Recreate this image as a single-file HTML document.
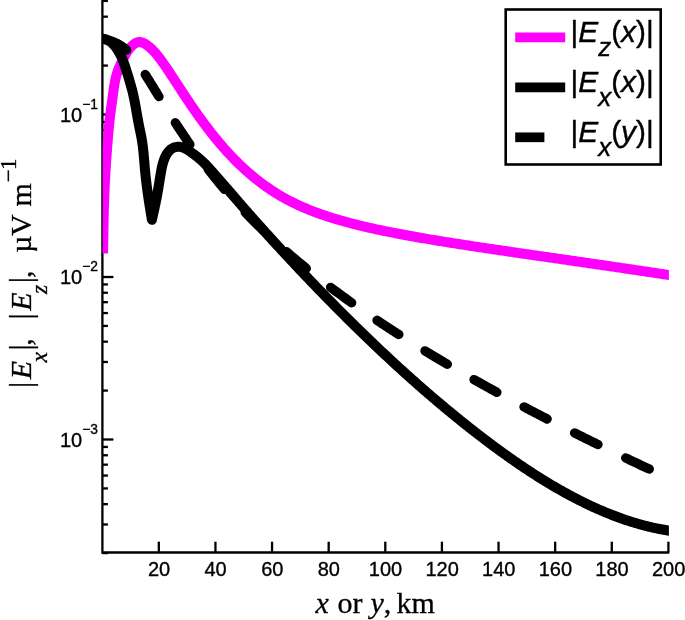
<!DOCTYPE html>
<html><head><meta charset="utf-8"><title>Field plot</title>
<style>
html,body{margin:0;padding:0;background:#fff;}
svg{display:block;}
.sans{font-family:"Liberation Sans",Arial,Helvetica,sans-serif;}
.serif{font-family:"Liberation Serif","Times New Roman",Times,serif;}
</style></head><body>
<svg width="685" height="620" viewBox="0 0 685 620">
<rect width="685" height="620" fill="#fff"/>
<defs><clipPath id="c"><rect x="102.6" y="0" width="566.3" height="552.5"/></clipPath></defs>
<g stroke="#000" stroke-width="2.3" fill="none">
<path d="M102.4,-0.4 V552.5 H669.2" stroke-linejoin="miter"/>
<line x1="158.82" y1="552.5" x2="158.82" y2="541.7"/>
<line x1="215.44" y1="552.5" x2="215.44" y2="541.7"/>
<line x1="272.06" y1="552.5" x2="272.06" y2="541.7"/>
<line x1="328.68" y1="552.5" x2="328.68" y2="541.7"/>
<line x1="385.30" y1="552.5" x2="385.30" y2="541.7"/>
<line x1="441.92" y1="552.5" x2="441.92" y2="541.7"/>
<line x1="498.54" y1="552.5" x2="498.54" y2="541.7"/>
<line x1="555.16" y1="552.5" x2="555.16" y2="541.7"/>
<line x1="611.78" y1="552.5" x2="611.78" y2="541.7"/>
<line x1="668.40" y1="552.5" x2="668.40" y2="541.7"/>
<line x1="102.4" y1="553.08" x2="107.9" y2="553.08"/>
<line x1="102.4" y1="524.47" x2="107.9" y2="524.47"/>
<line x1="102.4" y1="504.17" x2="107.9" y2="504.17"/>
<line x1="102.4" y1="488.42" x2="107.9" y2="488.42"/>
<line x1="102.4" y1="475.55" x2="107.9" y2="475.55"/>
<line x1="102.4" y1="464.67" x2="107.9" y2="464.67"/>
<line x1="102.4" y1="455.25" x2="107.9" y2="455.25"/>
<line x1="102.4" y1="446.94" x2="107.9" y2="446.94"/>
<line x1="102.4" y1="439.50" x2="113.4" y2="439.50"/>
<line x1="102.4" y1="390.58" x2="107.9" y2="390.58"/>
<line x1="102.4" y1="361.97" x2="107.9" y2="361.97"/>
<line x1="102.4" y1="341.67" x2="107.9" y2="341.67"/>
<line x1="102.4" y1="325.92" x2="107.9" y2="325.92"/>
<line x1="102.4" y1="313.05" x2="107.9" y2="313.05"/>
<line x1="102.4" y1="302.17" x2="107.9" y2="302.17"/>
<line x1="102.4" y1="292.75" x2="107.9" y2="292.75"/>
<line x1="102.4" y1="284.44" x2="107.9" y2="284.44"/>
<line x1="102.4" y1="277.00" x2="113.4" y2="277.00"/>
<line x1="102.4" y1="228.08" x2="107.9" y2="228.08"/>
<line x1="102.4" y1="199.47" x2="107.9" y2="199.47"/>
<line x1="102.4" y1="179.17" x2="107.9" y2="179.17"/>
<line x1="102.4" y1="163.42" x2="107.9" y2="163.42"/>
<line x1="102.4" y1="150.55" x2="107.9" y2="150.55"/>
<line x1="102.4" y1="139.67" x2="107.9" y2="139.67"/>
<line x1="102.4" y1="130.25" x2="107.9" y2="130.25"/>
<line x1="102.4" y1="121.94" x2="107.9" y2="121.94"/>
<line x1="102.4" y1="114.50" x2="113.4" y2="114.50"/>
<line x1="102.4" y1="65.58" x2="107.9" y2="65.58"/>
<line x1="102.4" y1="36.97" x2="107.9" y2="36.97"/>
<line x1="102.4" y1="16.67" x2="107.9" y2="16.67"/>
<line x1="102.4" y1="0.92" x2="107.9" y2="0.92"/>
</g>
<g clip-path="url(#c)" fill="none" stroke-width="10" stroke-linejoin="round">
<path d="M103.10,253.50 L103.12,252.11 L103.14,250.72 L103.15,249.33 L103.17,247.93 L103.19,246.54 L103.21,245.15 L103.23,243.76 L103.25,242.37 L103.27,240.98 L103.29,239.59 L103.31,238.19 L103.33,236.80 L103.35,235.41 L103.37,234.02 L103.39,232.63 L103.42,231.24 L103.44,229.85 L103.47,228.46 L103.49,227.06 L103.52,225.67 L103.54,224.28 L103.57,222.89 L103.60,221.50 L103.63,220.11 L103.66,218.72 L103.69,217.33 L103.72,215.94 L103.75,214.55 L103.79,213.15 L103.82,211.76 L103.86,210.37 L103.90,208.98 L103.94,207.59 L103.98,206.20 L104.02,204.81 L104.06,203.42 L104.11,202.03 L104.15,200.64 L104.20,199.25 L104.25,197.86 L104.30,196.47 L104.35,195.08 L104.41,193.69 L104.46,192.30 L104.52,190.91 L104.58,189.52 L104.64,188.13 L104.70,186.74 L104.77,185.35 L104.83,183.97 L104.90,182.58 L104.97,181.19 L105.04,179.80 L105.12,178.41 L105.19,177.02 L105.27,175.63 L105.35,174.24 L105.43,172.86 L105.51,171.47 L105.60,170.08 L105.68,168.69 L105.77,167.30 L105.86,165.91 L105.95,164.53 L106.04,163.14 L106.13,161.75 L106.23,160.36 L106.33,158.97 L106.42,157.59 L106.52,156.20 L106.62,154.81 L106.72,153.42 L106.83,152.04 L106.93,150.65 L107.04,149.26 L107.14,147.87 L107.25,146.48 L107.36,145.10 L107.47,143.71 L107.58,142.32 L107.69,140.93 L107.81,139.55 L107.92,138.16 L108.04,136.77 L108.15,135.39 L108.27,134.00 L108.39,132.61 L108.51,131.22 L108.64,129.84 L108.77,128.45 L108.90,127.07 L109.03,125.68 L109.17,124.30 L109.31,122.91 L109.45,121.53 L109.60,120.15 L109.76,118.77 L109.91,117.38 L110.08,116.00 L110.25,114.62 L110.42,113.25 L110.60,111.87 L110.78,110.49 L110.97,109.12 L111.16,107.74 L111.36,106.36 L111.55,104.99 L111.74,103.61 L111.94,102.23 L112.13,100.85 L112.32,99.47 L112.51,98.09 L112.69,96.70 L112.87,95.32 L113.06,93.93 L113.24,92.54 L113.42,91.16 L113.61,89.77 L113.81,88.38 L114.01,87.00 L114.23,85.62 L114.46,84.25 L114.70,82.87 L114.97,81.50 L115.24,80.14 L115.54,78.78 L115.87,77.43 L116.21,76.09 L116.59,74.75 L116.99,73.43 L117.42,72.11 L117.89,70.80 L118.38,69.50 L118.91,68.21 L119.46,66.93 L120.02,65.65 L120.61,64.39 L121.21,63.13 L121.82,61.88 L122.44,60.63 L123.06,59.39 L123.68,58.15 L124.30,56.92 L124.93,55.70 L125.58,54.48 L126.26,53.28 L126.97,52.10 L127.72,50.93 L128.52,49.79 L129.38,48.66 L130.30,47.56 L131.30,46.49 L132.38,45.45 L133.52,44.49 L134.71,43.64 L135.95,42.93 L137.22,42.40 L138.52,42.08 L139.83,42.00 L141.14,42.17 L142.45,42.56 L143.74,43.12 L145.01,43.83 L146.26,44.63 L147.46,45.51 L148.62,46.41 L149.73,47.33 L150.80,48.26 L151.82,49.20 L152.81,50.16 L153.77,51.14 L154.70,52.14 L155.61,53.17 L156.50,54.22 L157.37,55.30 L158.23,56.40 L159.08,57.51 L159.92,58.62 L160.75,59.74 L161.57,60.86 L162.38,61.99 L163.18,63.12 L163.98,64.26 L164.78,65.41 L165.56,66.55 L166.35,67.70 L167.13,68.85 L167.90,70.01 L168.68,71.16 L169.45,72.32 L170.22,73.48 L170.98,74.64 L171.75,75.81 L172.51,76.97 L173.27,78.13 L174.03,79.30 L174.79,80.46 L175.55,81.63 L176.31,82.79 L177.07,83.96 L177.83,85.13 L178.59,86.29 L179.35,87.46 L180.11,88.62 L180.87,89.79 L181.63,90.95 L182.40,92.11 L183.16,93.28 L183.92,94.44 L184.69,95.60 L185.46,96.76 L186.23,97.92 L187.00,99.08 L187.77,100.23 L188.55,101.39 L189.32,102.54 L190.10,103.70 L190.88,104.85 L191.66,106.00 L192.45,107.15 L193.24,108.29 L194.03,109.44 L194.82,110.58 L195.62,111.72 L196.41,112.86 L197.21,114.00 L198.02,115.13 L198.82,116.27 L199.63,117.40 L200.45,118.53 L201.26,119.66 L202.08,120.78 L202.90,121.90 L203.73,123.02 L204.56,124.14 L205.39,125.25 L206.23,126.37 L207.07,127.47 L207.91,128.58 L208.76,129.68 L209.61,130.79 L210.46,131.88 L211.32,132.98 L212.18,134.07 L213.05,135.16 L213.92,136.24 L214.79,137.33 L215.67,138.40 L216.56,139.48 L217.44,140.55 L218.33,141.62 L219.23,142.68 L220.13,143.74 L221.03,144.80 L221.94,145.85 L222.86,146.90 L223.78,147.95 L224.70,148.99 L225.63,150.03 L226.56,151.06 L227.50,152.09 L228.44,153.11 L229.38,154.13 L230.33,155.15 L231.29,156.16 L232.25,157.16 L233.22,158.16 L234.19,159.16 L235.17,160.15 L236.15,161.14 L237.13,162.12 L238.13,163.09 L239.12,164.06 L240.13,165.03 L241.13,165.99 L242.15,166.94 L243.16,167.89 L244.19,168.83 L245.22,169.77 L246.25,170.70 L247.29,171.63 L248.33,172.54 L249.38,173.46 L250.44,174.36 L251.50,175.26 L252.57,176.16 L253.64,177.04 L254.71,177.93 L255.80,178.80 L256.89,179.67 L257.98,180.53 L259.08,181.38 L260.18,182.23 L261.29,183.06 L262.41,183.90 L263.53,184.72 L264.65,185.54 L265.79,186.35 L266.92,187.15 L268.07,187.94 L269.21,188.73 L270.37,189.51 L271.52,190.28 L272.69,191.04 L273.86,191.80 L275.03,192.54 L276.21,193.28 L277.40,194.01 L278.59,194.73 L279.78,195.44 L280.98,196.15 L282.19,196.84 L283.40,197.53 L284.61,198.21 L285.83,198.88 L287.05,199.54 L288.28,200.19 L289.52,200.83 L290.76,201.47 L292.00,202.09 L293.24,202.71 L294.49,203.32 L295.75,203.93 L297.01,204.52 L298.27,205.10 L299.53,205.68 L300.80,206.25 L302.08,206.82 L303.35,207.37 L304.63,207.92 L305.91,208.46 L307.20,208.99 L308.49,209.52 L309.78,210.04 L311.07,210.55 L312.37,211.05 L313.67,211.55 L314.97,212.05 L316.27,212.53 L317.58,213.01 L318.88,213.48 L320.19,213.95 L321.51,214.41 L322.82,214.87 L324.14,215.32 L325.46,215.76 L326.78,216.20 L328.10,216.63 L329.42,217.06 L330.75,217.48 L332.08,217.90 L333.41,218.31 L334.74,218.71 L336.07,219.12 L337.40,219.51 L338.74,219.90 L340.07,220.29 L341.41,220.68 L342.75,221.05 L344.09,221.43 L345.43,221.80 L346.77,222.16 L348.12,222.53 L349.46,222.88 L350.81,223.24 L352.15,223.59 L353.50,223.93 L354.85,224.28 L356.20,224.62 L357.55,224.95 L358.90,225.28 L360.25,225.61 L361.60,225.94 L362.96,226.26 L364.31,226.58 L365.66,226.90 L367.02,227.21 L368.38,227.52 L369.73,227.83 L371.09,228.13 L372.45,228.44 L373.81,228.74 L375.17,229.03 L376.52,229.33 L377.89,229.62 L379.25,229.91 L380.61,230.20 L381.97,230.48 L383.33,230.76 L384.69,231.04 L386.06,231.32 L387.42,231.60 L388.78,231.87 L390.15,232.15 L391.51,232.42 L392.88,232.68 L394.24,232.95 L395.61,233.22 L396.97,233.48 L398.34,233.74 L399.71,234.00 L401.07,234.26 L402.44,234.52 L403.81,234.77 L405.18,235.02 L406.55,235.28 L407.91,235.53 L409.28,235.78 L410.65,236.02 L412.02,236.27 L413.39,236.51 L414.76,236.76 L416.13,237.00 L417.50,237.24 L418.87,237.48 L420.24,237.72 L421.61,237.96 L422.98,238.20 L424.35,238.43 L425.72,238.67 L427.10,238.90 L428.47,239.13 L429.84,239.36 L431.21,239.59 L432.58,239.82 L433.96,240.05 L435.33,240.28 L436.70,240.51 L438.07,240.73 L439.45,240.96 L440.82,241.18 L442.19,241.40 L443.57,241.63 L444.94,241.85 L446.31,242.07 L447.69,242.29 L449.06,242.51 L450.43,242.73 L451.81,242.95 L453.18,243.16 L454.56,243.38 L455.93,243.60 L457.30,243.81 L458.68,244.03 L460.05,244.24 L461.43,244.46 L462.80,244.67 L464.18,244.88 L465.55,245.09 L466.93,245.31 L468.30,245.52 L469.68,245.73 L471.05,245.94 L472.43,246.15 L473.80,246.36 L475.18,246.57 L476.55,246.77 L477.93,246.98 L479.30,247.19 L480.68,247.40 L482.06,247.60 L483.43,247.81 L484.81,248.02 L486.18,248.22 L487.56,248.43 L488.94,248.63 L490.31,248.84 L491.69,249.04 L493.06,249.25 L494.44,249.45 L495.82,249.65 L497.19,249.86 L498.57,250.06 L499.94,250.26 L501.32,250.47 L502.70,250.67 L504.07,250.87 L505.45,251.07 L506.83,251.27 L508.20,251.48 L509.58,251.68 L510.96,251.88 L512.33,252.08 L513.71,252.28 L515.09,252.48 L516.46,252.68 L517.84,252.88 L519.22,253.08 L520.59,253.28 L521.97,253.48 L523.35,253.68 L524.72,253.88 L526.10,254.08 L527.48,254.28 L528.85,254.48 L530.23,254.68 L531.61,254.88 L532.98,255.08 L534.36,255.28 L535.74,255.48 L537.11,255.68 L538.49,255.88 L539.87,256.08 L541.24,256.27 L542.62,256.47 L544.00,256.67 L545.37,256.87 L546.75,257.07 L548.13,257.27 L549.50,257.47 L550.88,257.67 L552.26,257.87 L553.64,258.06 L555.01,258.26 L556.39,258.46 L557.77,258.66 L559.14,258.86 L560.52,259.06 L561.90,259.26 L563.27,259.46 L564.65,259.66 L566.03,259.85 L567.40,260.05 L568.78,260.25 L570.16,260.45 L571.53,260.65 L572.91,260.85 L574.29,261.05 L575.66,261.25 L577.04,261.45 L578.42,261.65 L579.80,261.85 L581.17,262.05 L582.55,262.25 L583.93,262.45 L585.30,262.65 L586.68,262.85 L588.06,263.05 L589.43,263.25 L590.81,263.45 L592.19,263.65 L593.56,263.85 L594.94,264.05 L596.32,264.25 L597.69,264.45 L599.07,264.65 L600.45,264.85 L601.82,265.05 L603.20,265.25 L604.57,265.45 L605.95,265.65 L607.33,265.86 L608.70,266.06 L610.08,266.26 L611.46,266.46 L612.83,266.66 L614.21,266.86 L615.59,267.07 L616.96,267.27 L618.34,267.47 L619.72,267.67 L621.09,267.88 L622.47,268.08 L623.84,268.28 L625.22,268.48 L626.60,268.69 L627.97,268.89 L629.35,269.09 L630.73,269.30 L632.10,269.50 L633.48,269.71 L634.85,269.91 L636.23,270.11 L637.61,270.32 L638.98,270.52 L640.36,270.73 L641.73,270.93 L643.11,271.14 L644.49,271.34 L645.86,271.55 L647.24,271.76 L648.61,271.96 L649.99,272.17 L651.37,272.37 L652.74,272.58 L654.12,272.79 L655.49,272.99 L656.87,273.20 L658.24,273.41 L659.62,273.61 L661.00,273.82 L662.37,274.03 L663.75,274.24 L665.12,274.44 L666.50,274.65 L667.87,274.86 L669.25,275.06 L670.62,275.27 L672.00,275.48" stroke="#ff00ff"/>
<path d="M102.00,38.40 L103.28,38.76 L104.55,39.13 L105.80,39.53 L107.02,39.98 L108.21,40.50 L109.35,41.09 L110.44,41.78 L111.46,42.56 L112.44,43.42 L113.37,44.35 L114.25,45.33 L115.09,46.36 L115.89,47.42 L116.66,48.49 L117.40,49.59 L118.10,50.69 L118.77,51.81 L119.42,52.95 L120.03,54.09 L120.62,55.25 L121.18,56.42 L121.72,57.60 L122.24,58.79 L122.73,60.00 L123.21,61.21 L123.66,62.42 L124.11,63.65 L124.53,64.88 L124.95,66.12 L125.36,67.36 L125.76,68.60 L126.15,69.84 L126.54,71.09 L126.93,72.34 L127.32,73.58 L127.71,74.83 L128.09,76.07 L128.48,77.32 L128.86,78.57 L129.24,79.81 L129.61,81.06 L129.98,82.31 L130.34,83.56 L130.70,84.82 L131.05,86.07 L131.40,87.32 L131.73,88.58 L132.06,89.84 L132.38,91.10 L132.69,92.36 L132.99,93.63 L133.28,94.90 L133.56,96.17 L133.83,97.44 L134.10,98.71 L134.35,99.99 L134.61,101.27 L134.85,102.54 L135.09,103.82 L135.33,105.10 L135.56,106.39 L135.79,107.67 L136.02,108.95 L136.25,110.24 L136.47,111.52 L136.70,112.80 L136.92,114.09 L137.14,115.37 L137.37,116.66 L137.59,117.94 L137.82,119.23 L138.06,120.51 L138.29,121.79 L138.53,123.07 L138.78,124.35 L139.03,125.63 L139.28,126.91 L139.55,128.19 L139.81,129.46 L140.08,130.74 L140.35,132.02 L140.61,133.29 L140.87,134.57 L141.12,135.84 L141.37,137.12 L141.60,138.40 L141.82,139.69 L142.03,140.97 L142.23,142.26 L142.42,143.54 L142.59,144.83 L142.76,146.12 L142.92,147.41 L143.07,148.71 L143.21,150.00 L143.35,151.30 L143.48,152.59 L143.60,153.89 L143.72,155.19 L143.84,156.49 L143.96,157.79 L144.07,159.09 L144.18,160.39 L144.29,161.69 L144.39,162.99 L144.50,164.29 L144.61,165.59 L144.72,166.89 L144.84,168.19 L144.95,169.48 L145.07,170.78 L145.20,172.08 L145.33,173.38 L145.46,174.67 L145.59,175.97 L145.73,177.27 L145.88,178.56 L146.03,179.85 L146.18,181.15 L146.33,182.44 L146.49,183.73 L146.65,185.03 L146.81,186.32 L146.98,187.61 L147.15,188.90 L147.33,190.19 L147.50,191.48 L147.68,192.77 L147.87,194.06 L148.05,195.35 L148.24,196.64 L148.43,197.93 L148.62,199.22 L148.82,200.50 L149.01,201.79 L149.21,203.08 L149.41,204.37 L149.61,205.65 L149.82,206.94 L150.02,208.23 L150.23,209.51 L150.43,210.80 L150.64,212.08 L150.85,213.37 L151.06,214.66 L151.27,215.94 L151.48,217.23 L151.69,218.51 L151.90,219.80 L152.22,218.40 L152.53,216.99 L152.85,215.59 L153.17,214.19 L153.48,212.78 L153.79,211.38 L154.10,209.97 L154.41,208.57 L154.71,207.17 L155.01,205.76 L155.31,204.35 L155.60,202.95 L155.89,201.54 L156.17,200.14 L156.45,198.73 L156.72,197.32 L156.99,195.91 L157.25,194.50 L157.50,193.09 L157.74,191.68 L157.98,190.27 L158.22,188.85 L158.45,187.44 L158.68,186.03 L158.91,184.61 L159.14,183.20 L159.37,181.78 L159.59,180.36 L159.82,178.94 L160.06,177.52 L160.29,176.10 L160.53,174.68 L160.78,173.25 L161.03,171.83 L161.29,170.41 L161.56,168.98 L161.85,167.56 L162.16,166.15 L162.50,164.74 L162.87,163.35 L163.28,161.97 L163.73,160.60 L164.22,159.25 L164.77,157.92 L165.37,156.61 L166.03,155.32 L166.76,154.06 L167.56,152.84 L168.44,151.68 L169.40,150.59 L170.46,149.61 L171.61,148.74 L172.87,148.03 L174.22,147.46 L175.63,147.06 L177.08,146.81 L178.54,146.73 L179.98,146.82 L181.38,147.07 L182.75,147.47 L184.09,147.99 L185.39,148.62 L186.67,149.33 L187.92,150.11 L189.16,150.92 L190.37,151.76 L191.57,152.60 L192.75,153.45 L193.92,154.31 L195.07,155.18 L196.21,156.06 L197.33,156.95 L198.44,157.85 L199.53,158.77 L200.60,159.70 L201.66,160.65 L202.71,161.62 L203.74,162.60 L204.76,163.60 L205.77,164.62 L206.76,165.65 L207.75,166.69 L208.73,167.75 L209.69,168.81 L210.66,169.88 L211.61,170.96 L212.56,172.05 L213.51,173.13 L214.46,174.22 L215.40,175.31 L216.35,176.40 L217.29,177.48 L218.24,178.57 L219.19,179.65 L220.13,180.73 L221.08,181.81 L222.03,182.89 L222.97,183.97 L223.92,185.05 L224.86,186.13 L225.81,187.21 L226.75,188.29 L227.70,189.37 L228.64,190.46 L229.58,191.54 L230.52,192.62 L231.46,193.71 L232.40,194.80 L233.34,195.88 L234.27,196.97 L235.21,198.06 L236.15,199.15 L237.09,200.24 L238.02,201.33 L238.96,202.41 L239.90,203.50 L240.84,204.59 L241.78,205.67 L242.73,206.76 L243.67,207.84 L244.61,208.93 L245.56,210.01 L246.50,211.09 L247.45,212.17 L248.40,213.25 L249.35,214.33 L250.30,215.40 L251.25,216.48 L252.20,217.56 L253.15,218.63 L254.11,219.71 L255.06,220.78 L256.01,221.85 L256.97,222.93 L257.93,224.00 L258.88,225.07 L259.84,226.14 L260.80,227.21 L261.76,228.28 L262.72,229.35 L263.68,230.42 L264.64,231.49 L265.60,232.55 L266.56,233.62 L267.52,234.69 L268.49,235.75 L269.45,236.82 L270.42,237.88 L271.38,238.94 L272.35,240.00 L273.32,241.07 L274.29,242.13 L275.26,243.19 L276.23,244.25 L277.20,245.31 L278.17,246.36 L279.14,247.42 L280.11,248.48 L281.09,249.54 L282.06,250.59 L283.04,251.65 L284.01,252.70 L284.99,253.75 L285.97,254.81 L286.94,255.86 L287.92,256.91 L288.90,257.96 L289.88,259.01 L290.86,260.06 L291.84,261.11 L292.82,262.16 L293.80,263.21 L294.79,264.26 L295.77,265.30 L296.76,266.35 L297.74,267.40 L298.73,268.44 L299.71,269.49 L300.70,270.53 L301.69,271.57 L302.67,272.62 L303.66,273.66 L304.65,274.70 L305.64,275.74 L306.63,276.78 L307.62,277.82 L308.62,278.86 L309.61,279.90 L310.60,280.94 L311.60,281.97 L312.59,283.01 L313.59,284.05 L314.58,285.08 L315.58,286.12 L316.58,287.15 L317.57,288.18 L318.57,289.21 L319.57,290.25 L320.57,291.28 L321.57,292.31 L322.57,293.34 L323.58,294.37 L324.58,295.40 L325.58,296.42 L326.59,297.45 L327.59,298.48 L328.60,299.50 L329.60,300.53 L330.61,301.55 L331.62,302.58 L332.63,303.60 L333.64,304.62 L334.65,305.64 L335.66,306.67 L336.67,307.69 L337.68,308.70 L338.69,309.72 L339.71,310.74 L340.72,311.76 L341.73,312.78 L342.75,313.79 L343.77,314.81 L344.78,315.82 L345.80,316.83 L346.82,317.85 L347.84,318.86 L348.86,319.87 L349.88,320.88 L350.90,321.89 L351.93,322.90 L352.95,323.91 L353.97,324.91 L355.00,325.92 L356.02,326.93 L357.05,327.93 L358.08,328.94 L359.11,329.94 L360.13,330.94 L361.16,331.94 L362.19,332.94 L363.23,333.94 L364.26,334.94 L365.29,335.94 L366.32,336.94 L367.36,337.94 L368.39,338.93 L369.43,339.93 L370.47,340.92 L371.51,341.91 L372.54,342.91 L373.58,343.90 L374.62,344.89 L375.67,345.88 L376.71,346.87 L377.75,347.85 L378.79,348.84 L379.84,349.83 L380.88,350.81 L381.93,351.80 L382.98,352.78 L384.03,353.76 L385.07,354.74 L386.12,355.73 L387.17,356.70 L388.23,357.68 L389.28,358.66 L390.33,359.64 L391.39,360.61 L392.44,361.59 L393.50,362.56 L394.55,363.54 L395.61,364.51 L396.67,365.48 L397.73,366.45 L398.79,367.42 L399.85,368.39 L400.91,369.35 L401.98,370.32 L403.04,371.28 L404.11,372.25 L405.17,373.21 L406.24,374.17 L407.31,375.13 L408.38,376.09 L409.45,377.05 L410.52,378.01 L411.59,378.96 L412.66,379.92 L413.74,380.87 L414.81,381.83 L415.89,382.78 L416.96,383.73 L418.04,384.68 L419.12,385.63 L420.20,386.58 L421.28,387.52 L422.36,388.47 L423.44,389.41 L424.53,390.36 L425.61,391.30 L426.70,392.24 L427.78,393.18 L428.87,394.12 L429.96,395.06 L431.05,395.99 L432.14,396.93 L433.23,397.86 L434.32,398.79 L435.42,399.72 L436.51,400.65 L437.61,401.58 L438.70,402.51 L439.80,403.44 L440.90,404.36 L442.00,405.29 L443.10,406.21 L444.20,407.13 L445.31,408.05 L446.41,408.97 L447.52,409.89 L448.62,410.80 L449.73,411.72 L450.84,412.63 L451.95,413.54 L453.06,414.45 L454.17,415.36 L455.28,416.27 L456.40,417.18 L457.51,418.08 L458.63,418.99 L459.75,419.89 L460.87,420.79 L461.99,421.69 L463.11,422.59 L464.23,423.49 L465.35,424.38 L466.48,425.28 L467.60,426.17 L468.73,427.06 L469.86,427.95 L470.99,428.84 L472.12,429.73 L473.25,430.61 L474.38,431.49 L475.51,432.38 L476.65,433.26 L477.78,434.14 L478.92,435.01 L480.06,435.89 L481.20,436.77 L482.34,437.64 L483.48,438.51 L484.63,439.38 L485.77,440.25 L486.92,441.11 L488.06,441.98 L489.21,442.84 L490.36,443.70 L491.51,444.56 L492.67,445.42 L493.82,446.27 L494.97,447.13 L496.13,447.98 L497.29,448.83 L498.45,449.68 L499.61,450.52 L500.77,451.37 L501.94,452.21 L503.10,453.05 L504.27,453.89 L505.44,454.72 L506.61,455.56 L507.78,456.39 L508.95,457.22 L510.12,458.05 L511.30,458.87 L512.48,459.69 L513.66,460.52 L514.84,461.33 L516.02,462.15 L517.20,462.96 L518.39,463.78 L519.57,464.58 L520.76,465.39 L521.95,466.20 L523.15,467.00 L524.34,467.80 L525.53,468.59 L526.73,469.39 L527.93,470.18 L529.13,470.97 L530.33,471.75 L531.54,472.54 L532.74,473.32 L533.95,474.10 L535.16,474.87 L536.37,475.65 L537.58,476.42 L538.80,477.18 L540.01,477.95 L541.23,478.71 L542.45,479.46 L543.68,480.22 L544.90,480.97 L546.13,481.72 L547.35,482.47 L548.58,483.21 L549.82,483.95 L551.05,484.68 L552.28,485.42 L553.52,486.14 L554.76,486.87 L556.00,487.59 L557.25,488.31 L558.49,489.03 L559.74,489.74 L560.99,490.45 L562.24,491.15 L563.50,491.85 L564.75,492.55 L566.01,493.24 L567.27,493.93 L568.53,494.62 L569.80,495.30 L571.06,495.98 L572.33,496.65 L573.60,497.32 L574.88,497.99 L576.15,498.65 L577.43,499.31 L578.71,499.96 L579.99,500.61 L581.28,501.25 L582.56,501.89 L583.85,502.53 L585.14,503.16 L586.43,503.78 L587.73,504.41 L589.03,505.02 L590.33,505.64 L591.63,506.24 L592.93,506.85 L594.24,507.44 L595.55,508.04 L596.86,508.62 L598.17,509.21 L599.49,509.78 L600.80,510.35 L602.12,510.92 L603.45,511.48 L604.77,512.04 L606.10,512.59 L607.43,513.13 L608.76,513.67 L610.09,514.21 L611.43,514.73 L612.77,515.26 L614.11,515.77 L615.45,516.28 L616.80,516.79 L618.14,517.28 L619.49,517.78 L620.85,518.26 L622.20,518.74 L623.56,519.21 L624.92,519.68 L626.28,520.14 L627.64,520.59 L629.01,521.04 L630.37,521.48 L631.74,521.91 L633.12,522.34 L634.49,522.75 L635.87,523.16 L637.24,523.57 L638.63,523.97 L640.01,524.36 L641.39,524.74 L642.78,525.11 L644.17,525.48 L645.56,525.85 L646.95,526.20 L648.35,526.55 L649.74,526.89 L651.14,527.22 L652.54,527.54 L653.94,527.85 L655.35,528.15 L656.75,528.45 L658.16,528.73 L659.57,529.00 L660.98,529.26 L662.40,529.52 L663.81,529.77 L665.23,530.01 L666.65,530.24 L668.06,530.48 L669.48,530.71 L670.90,530.94" stroke="#000"/>
<path d="M102.00,38.40 L103.20,38.71 L104.39,39.01 L105.58,39.33 L106.77,39.65 L107.95,39.99 L109.13,40.34 L110.30,40.71 L111.46,41.11 L112.61,41.52 L113.75,41.97 L114.88,42.45 L116.00,42.96 L117.10,43.50 L118.18,44.08 L119.25,44.69 L120.31,45.33 L121.35,46.00 L122.37,46.69 L123.37,47.41 L124.36,48.16 L125.32,48.93 L126.27,49.72 L127.19,50.54 L128.10,51.37 L128.98,52.23 L129.84,53.10 L130.69,53.99 L131.51,54.90 L132.32,55.82 L133.11,56.76 L133.89,57.71 L134.65,58.67 L135.40,59.65 L136.14,60.63 L136.86,61.63 L137.57,62.63 L138.28,63.65 L138.97,64.67 L139.66,65.69 L140.34,66.73 L141.01,67.76 L141.68,68.80 L142.34,69.84 L143.00,70.89 L143.66,71.93 L144.31,72.98 L144.97,74.02 L145.62,75.06 L146.28,76.10 L146.93,77.14 L147.59,78.17 L148.24,79.21 L148.89,80.25 L149.54,81.29 L150.18,82.34 L150.83,83.38 L151.47,84.43 L152.12,85.47 L152.76,86.52 L153.40,87.56 L154.04,88.61 L154.69,89.66 L155.33,90.70 L155.97,91.75 L156.61,92.79 L157.25,93.84 L157.89,94.89 L158.54,95.93 L159.18,96.98 L159.82,98.02 L160.47,99.07 L161.11,100.11 L161.75,101.16 L162.40,102.20 L163.05,103.25 L163.69,104.29 L164.34,105.33 L164.99,106.37 L165.64,107.42 L166.29,108.46 L166.94,109.50 L167.59,110.54 L168.25,111.58 L168.90,112.61 L169.56,113.65 L170.21,114.69 L170.87,115.72 L171.53,116.76 L172.19,117.79 L172.85,118.83 L173.52,119.86 L174.18,120.89 L174.85,121.92 L175.52,122.95 L176.18,123.98 L176.85,125.01 L177.53,126.04 L178.20,127.06 L178.88,128.09 L179.55,129.11 L180.23,130.13 L180.91,131.16 L181.59,132.18 L182.27,133.20 L182.96,134.22 L183.65,135.23 L184.33,136.25 L185.02,137.26 L185.72,138.28 L186.41,139.29 L187.10,140.30 L187.80,141.31 L188.50,142.32 L189.20,143.33 L189.90,144.34 L190.61,145.34 L191.31,146.35 L192.02,147.35 L192.73,148.35 L193.44,149.35 L194.15,150.35 L194.87,151.35 L195.59,152.34 L196.31,153.34 L197.03,154.33 L197.75,155.32 L198.47,156.31 L199.20,157.30 L199.93,158.29 L200.66,159.28 L201.39,160.26 L202.13,161.25 L202.86,162.23 L203.60,163.21 L204.34,164.19 L205.08,165.16 L205.83,166.14 L206.57,167.12 L207.32,168.09 L208.07,169.06 L208.83,170.03 L209.58,171.00 L210.34,171.96 L211.10,172.93 L211.86,173.89 L212.62,174.85 L213.38,175.81 L214.15,176.77 L214.92,177.73 L215.69,178.69 L216.46,179.64 L217.24,180.59 L218.01,181.54 L218.79,182.49 L219.57,183.44 L220.36,184.38 L221.14,185.33 L221.93,186.27 L222.72,187.21 L223.51,188.15 L224.30,189.08 L225.10,190.02 L225.89,190.95 L226.69,191.88 L227.50,192.81 L228.30,193.74 L229.10,194.66 L229.91,195.59 L230.72,196.51 L231.53,197.43 L232.35,198.35 L233.16,199.27 L233.98,200.18 L234.80,201.10 L235.62,202.01 L236.45,202.92 L237.27,203.82 L238.10,204.73 L238.93,205.63 L239.77,206.54 L240.60,207.44 L241.44,208.34 L242.27,209.23 L243.11,210.13 L243.96,211.02 L244.80,211.91 L245.65,212.80 L246.50,213.69 L247.35,214.57 L248.20,215.45 L249.05,216.33 L249.91,217.21 L250.77,218.09 L251.63,218.97 L252.49,219.84 L253.36,220.71 L254.22,221.58 L255.09,222.45 L255.96,223.32 L256.83,224.18 L257.70,225.04 L258.58,225.90 L259.46,226.76 L260.33,227.62 L261.22,228.47 L262.10,229.33 L262.98,230.18 L263.87,231.03 L264.75,231.88 L265.64,232.72 L266.53,233.57 L267.43,234.41 L268.32,235.25 L269.22,236.09 L270.11,236.93 L271.01,237.76 L271.91,238.60 L272.82,239.43 L273.72,240.26 L274.62,241.09 L275.53,241.92 L276.44,242.74 L277.35,243.57 L278.26,244.39 L279.17,245.21 L280.09,246.03 L281.00,246.84 L281.92,247.66 L282.84,248.47 L283.76,249.29 L284.68,250.10 L285.61,250.91 L286.53,251.71 L287.46,252.52 L288.38,253.32 L289.31,254.12 L290.24,254.93 L291.17,255.72 L292.11,256.52 L293.04,257.32 L293.98,258.11 L294.91,258.91 L295.85,259.70 L296.79,260.49 L297.73,261.28 L298.67,262.06 L299.62,262.85 L300.56,263.63 L301.51,264.41 L302.45,265.19 L303.40,265.97 L304.35,266.75 L305.30,267.53 L306.26,268.30 L307.21,269.08 L308.16,269.85 L309.12,270.62 L310.08,271.39 L311.03,272.15 L311.99,272.92 L312.95,273.68 L313.91,274.45 L314.88,275.21 L315.84,275.97 L316.80,276.73 L317.77,277.49 L318.74,278.24 L319.71,279.00 L320.67,279.75 L321.64,280.50 L322.62,281.25 L323.59,282.00 L324.56,282.75 L325.54,283.50 L326.51,284.24 L327.49,284.98 L328.46,285.73 L329.44,286.47 L330.42,287.21 L331.40,287.95 L332.38,288.68 L333.37,289.42 L334.35,290.15 L335.33,290.89 L336.32,291.62 L337.31,292.35 L338.29,293.08 L339.28,293.81 L340.27,294.53 L341.26,295.26 L342.25,295.98 L343.24,296.71 L344.24,297.43 L345.23,298.15 L346.22,298.87 L347.22,299.59 L348.22,300.30 L349.21,301.02 L350.21,301.73 L351.21,302.45 L352.21,303.16 L353.21,303.87 L354.21,304.58 L355.22,305.29 L356.22,305.99 L357.22,306.70 L358.23,307.40 L359.23,308.11 L360.24,308.81 L361.25,309.51 L362.26,310.21 L363.26,310.91 L364.27,311.61 L365.29,312.30 L366.30,313.00 L367.31,313.69 L368.32,314.39 L369.34,315.08 L370.35,315.77 L371.36,316.46 L372.38,317.15 L373.40,317.84 L374.41,318.52 L375.43,319.21 L376.45,319.89 L377.47,320.58 L378.49,321.26 L379.51,321.94 L380.53,322.62 L381.56,323.30 L382.58,323.98 L383.60,324.65 L384.63,325.33 L385.65,326.00 L386.68,326.68 L387.71,327.35 L388.73,328.02 L389.76,328.69 L390.79,329.36 L391.82,330.03 L392.85,330.70 L393.88,331.37 L394.91,332.03 L395.94,332.70 L396.98,333.36 L398.01,334.02 L399.04,334.68 L400.08,335.34 L401.11,336.00 L402.15,336.66 L403.18,337.32 L404.22,337.98 L405.26,338.63 L406.30,339.29 L407.34,339.94 L408.37,340.60 L409.41,341.25 L410.45,341.90 L411.50,342.55 L412.54,343.20 L413.58,343.85 L414.62,344.50 L415.66,345.14 L416.71,345.79 L417.75,346.43 L418.80,347.08 L419.84,347.72 L420.89,348.36 L421.94,349.00 L422.98,349.65 L424.03,350.29 L425.08,350.92 L426.13,351.56 L427.17,352.20 L428.22,352.84 L429.27,353.47 L430.33,354.11 L431.38,354.74 L432.43,355.37 L433.48,356.01 L434.53,356.64 L435.59,357.27 L436.64,357.90 L437.69,358.53 L438.75,359.15 L439.80,359.78 L440.86,360.41 L441.91,361.03 L442.97,361.66 L444.03,362.28 L445.08,362.91 L446.14,363.53 L447.20,364.15 L448.26,364.77 L449.32,365.39 L450.38,366.01 L451.44,366.63 L452.50,367.25 L453.56,367.87 L454.62,368.48 L455.68,369.10 L456.74,369.71 L457.81,370.33 L458.87,370.94 L459.93,371.56 L461.00,372.17 L462.06,372.78 L463.12,373.39 L464.19,374.00 L465.26,374.61 L466.32,375.22 L467.39,375.83 L468.45,376.43 L469.52,377.04 L470.59,377.65 L471.66,378.25 L472.72,378.85 L473.79,379.46 L474.86,380.06 L475.93,380.66 L477.00,381.27 L478.07,381.87 L479.14,382.47 L480.21,383.07 L481.28,383.67 L482.36,384.26 L483.43,384.86 L484.50,385.46 L485.57,386.05 L486.65,386.65 L487.72,387.25 L488.79,387.84 L489.87,388.43 L490.94,389.03 L492.02,389.62 L493.09,390.21 L494.17,390.80 L495.25,391.39 L496.32,391.98 L497.40,392.57 L498.48,393.16 L499.55,393.75 L500.63,394.34 L501.71,394.92 L502.79,395.51 L503.87,396.09 L504.94,396.68 L506.02,397.26 L507.10,397.85 L508.18,398.43 L509.26,399.01 L510.34,399.60 L511.43,400.18 L512.51,400.76 L513.59,401.34 L514.67,401.92 L515.75,402.50 L516.84,403.07 L517.92,403.65 L519.00,404.23 L520.08,404.81 L521.17,405.38 L522.25,405.96 L523.34,406.53 L524.42,407.11 L525.51,407.68 L526.59,408.25 L527.68,408.83 L528.76,409.40 L529.85,409.97 L530.94,410.54 L532.02,411.11 L533.11,411.68 L534.20,412.25 L535.28,412.82 L536.37,413.39 L537.46,413.96 L538.55,414.52 L539.64,415.09 L540.73,415.66 L541.82,416.22 L542.91,416.79 L544.00,417.35 L545.09,417.92 L546.18,418.48 L547.27,419.04 L548.36,419.60 L549.45,420.17 L550.54,420.73 L551.63,421.29 L552.72,421.85 L553.82,422.41 L554.91,422.97 L556.00,423.53 L557.10,424.09 L558.19,424.64 L559.28,425.20 L560.38,425.76 L561.47,426.31 L562.56,426.87 L563.66,427.42 L564.75,427.98 L565.85,428.53 L566.94,429.09 L568.04,429.64 L569.14,430.19 L570.23,430.75 L571.33,431.30 L572.43,431.85 L573.52,432.40 L574.62,432.95 L575.72,433.50 L576.81,434.05 L577.91,434.60 L579.01,435.15 L580.11,435.69 L581.21,436.24 L582.31,436.79 L583.40,437.33 L584.50,437.88 L585.60,438.43 L586.70,438.97 L587.80,439.52 L588.90,440.06 L590.00,440.60 L591.10,441.15 L592.20,441.69 L593.31,442.23 L594.41,442.77 L595.51,443.32 L596.61,443.86 L597.71,444.40 L598.81,444.94 L599.92,445.48 L601.02,446.02 L602.12,446.56 L603.22,447.10 L604.33,447.63 L605.43,448.17 L606.53,448.71 L607.64,449.25 L608.74,449.78 L609.85,450.32 L610.95,450.85 L612.06,451.39 L613.16,451.92 L614.27,452.46 L615.37,452.99 L616.48,453.53 L617.58,454.06 L618.69,454.59 L619.79,455.12 L620.90,455.65 L622.01,456.19 L623.11,456.72 L624.22,457.25 L625.33,457.78 L626.43,458.31 L627.54,458.83 L628.65,459.36 L629.76,459.89 L630.87,460.42 L631.97,460.95 L633.08,461.47 L634.19,462.00 L635.30,462.52 L636.41,463.05 L637.52,463.57 L638.63,464.10 L639.74,464.62 L640.85,465.14 L641.96,465.67 L643.07,466.19 L644.18,466.71 L645.29,467.23 L646.41,467.75 L647.52,468.27 L648.63,468.79 L649.74,469.31 L650.85,469.83 L651.97,470.35 L653.08,470.87 L654.19,471.39 L655.30,471.91 L656.42,472.43 L657.53,472.94 L658.64,473.46 L659.75,473.98 L660.87,474.50 L661.98,475.01 L663.09,475.53 L664.21,476.05 L665.32,476.56 L666.43,477.08 L667.55,477.60 L668.66,478.11 L669.77,478.63 L670.89,479.15 L672.00,479.66" stroke="#000" stroke-width="9.4" stroke-linecap="round" stroke-dasharray="26 30.9" stroke-dashoffset="-1.5"/>
</g>
<g class="sans" font-size="20" fill="#000" stroke="#000" stroke-width="0.35">
<text x="159.02" y="576.2" text-anchor="middle">20</text>
<text x="215.64" y="576.2" text-anchor="middle">40</text>
<text x="272.26" y="576.2" text-anchor="middle">60</text>
<text x="328.88" y="576.2" text-anchor="middle">80</text>
<text x="385.50" y="576.2" text-anchor="middle">100</text>
<text x="442.12" y="576.2" text-anchor="middle">120</text>
<text x="498.74" y="576.2" text-anchor="middle">140</text>
<text x="555.36" y="576.2" text-anchor="middle">160</text>
<text x="611.98" y="576.2" text-anchor="middle">180</text>
<text x="668.60" y="576.2" text-anchor="middle">200</text>
<text x="60" y="121.80">10<tspan dy="-13.2" dx="0" font-size="13.8">−1</tspan></text>
<text x="60" y="284.30">10<tspan dy="-13.2" dx="0" font-size="13.8">−2</tspan></text>
<text x="60" y="446.80">10<tspan dy="-13.2" dx="0" font-size="13.8">−3</tspan></text>
</g>
<g class="serif" font-size="30" fill="#000" stroke="#000" stroke-width="0.3">
<text y="613"><tspan x="315.4" font-style="italic">x</tspan> <tspan x="337.5">or</tspan> <tspan x="370.4" font-style="italic">y</tspan>, <tspan x="396.6">km</tspan></text>
<text transform="translate(31.0,400.0) rotate(-90)"><tspan x="12.00" y="0" font-size="31">|</tspan><tspan x="20.70" y="0" font-style="italic">E</tspan><tspan x="37.40" y="16" font-style="italic" font-size="23.8">x</tspan><tspan x="49.40" y="0" font-size="31">|</tspan><tspan x="54.32" y="0">,</tspan><tspan x="80.60" y="0" font-size="31">|</tspan><tspan x="89.25" y="0" font-style="italic">E</tspan><tspan x="106.11" y="16" font-style="italic" font-size="23.8">z</tspan><tspan x="116.80" y="0" font-size="31">|</tspan><tspan x="121.97" y="0">,</tspan><tspan x="147.21" y="0">µ</tspan><tspan x="164.07" y="0">V</tspan><tspan x="193.60" y="0">m</tspan><tspan x="217.75" y="-15" font-size="23.0">−</tspan><tspan x="230.13" y="-15" font-size="23.0">1</tspan></text>
</g>
<rect x="505.7" y="9.5" width="155" height="155" fill="#fff" stroke="#000" stroke-width="2.6"/>
<g stroke-width="9.7" fill="none">
<line x1="515.2" y1="37.4" x2="565.2" y2="37.4" stroke="#ff00ff"/>
<line x1="515.2" y1="87.4" x2="565.2" y2="87.4" stroke="#000"/>
<line x1="515.2" y1="137.3" x2="544.4" y2="137.3" stroke="#000"/>
</g>
<g class="sans" font-size="29.8" fill="#000" stroke="#000" stroke-width="0.4">
<text x="570.5" y="41.6">|<tspan font-style="italic">E</tspan><tspan font-style="italic" font-size="26" dy="14.4">z</tspan><tspan dy="-14.4">(</tspan><tspan font-style="italic">x</tspan>)|</text>
<text x="570.5" y="91.6">|<tspan font-style="italic">E</tspan><tspan font-style="italic" font-size="26" dy="14.4">x</tspan><tspan dy="-14.4">(</tspan><tspan font-style="italic">x</tspan>)|</text>
<text x="570.5" y="141.6">|<tspan font-style="italic">E</tspan><tspan font-style="italic" font-size="26" dy="14.4">x</tspan><tspan dy="-14.4">(</tspan><tspan font-style="italic">y</tspan>)|</text>
</g>
</svg>
</body></html>
